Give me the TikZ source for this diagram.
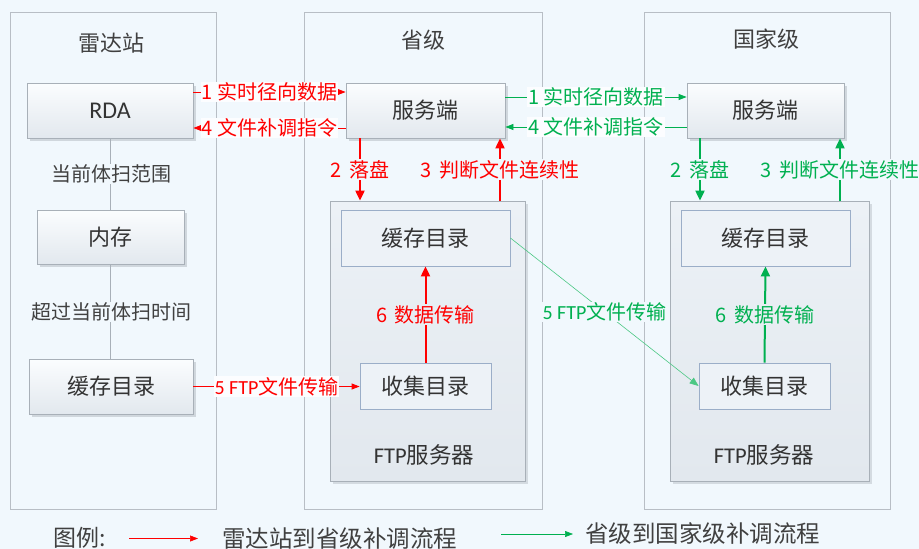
\documentclass[tikz,border=0pt]{standalone}
\usepackage{fontspec}
\setmainfont{Noto Sans CJK SC}
\newfontfamily\lat{Carlito}
\usetikzlibrary{arrows.meta,shadows,calc}
\definecolor{bg}{RGB}{241,248,253}
\definecolor{panelline}{RGB}{184,190,197}
\definecolor{boxline}{RGB}{168,176,184}
\definecolor{innerline}{RGB}{155,174,200}
\definecolor{txt}{RGB}{51,51,51}
\definecolor{ttl}{RGB}{64,64,64}
\definecolor{myred}{RGB}{255,0,0}
\definecolor{mygreen}{RGB}{0,176,80}
\definecolor{lblfill}{RGB}{252,253,255}
\tikzset{
  panel/.style={draw=panelline, line width=0.8pt, fill=bg},
  box/.style={draw=boxline, line width=0.8pt, top color=white!70!bg, bottom color={rgb,255:red,226;green,232;blue,238},
    drop shadow={shadow xshift=3pt, shadow yshift=-3pt, fill={rgb,255:red,200;green,207;blue,214}, opacity=0.8},
    inner sep=0pt, text=txt, font=\fontsize{22}{26}\selectfont},
  ftpbox/.style={draw=boxline, line width=0.8pt, top color={rgb,255:red,236;green,241;blue,246}, bottom color={rgb,255:red,226;green,232;blue,238},
    drop shadow={shadow xshift=3pt, shadow yshift=-3pt, fill={rgb,255:red,205;green,212;blue,218}, opacity=0.8},
    inner sep=0pt},
  innerbox/.style={draw=innerline, line width=0.8pt, fill={rgb,255:red,237;green,242;blue,247}, inner sep=0pt, text=txt, font=\fontsize{22}{26}\selectfont},
  ttlnode/.style={text=ttl, font=\fontsize{22}{26}\selectfont, inner sep=0pt},
  sidelbl/.style={text=ttl, font=\fontsize{20}{22}\selectfont, fill=bg, inner sep=1pt},
  lbl/.style={font=\fontsize{20}{22}\selectfont, fill=lblfill, inner sep=1pt},
  redthin/.style={draw=myred, line width=0.8pt, -{Triangle[length=8pt,width=6pt]}},
  redthick/.style={draw=myred, line width=2pt, -{Triangle[length=10pt,width=9pt]}},
  greenthin/.style={draw=mygreen, line width=0.8pt, -{Triangle[length=8pt,width=6pt]}},
  greenthick/.style={draw=mygreen, line width=2pt, -{Triangle[length=10pt,width=9pt]}},
  greenhair/.style={draw=mygreen!70, line width=0.6pt, -{Triangle[length=9pt,width=7pt]}},
  legend/.style={text=ttl, font=\fontsize{23.5}{26}\selectfont, inner sep=0pt, anchor=west},
}
\begin{document}
\begin{tikzpicture}[x=1pt,y=-1pt]
\fill[bg] (0,0) rectangle (919,549);
\useasboundingbox (0,0) rectangle (919,549);

% panels
\draw[panel] (10,12) rectangle (216,509);
\draw[panel] (304,12) rectangle (542,509);
\draw[panel] (644,12) rectangle (890,509);

\node[ttlnode] (t1) at (111,43) {雷达站};
\node[ttlnode] (t2) at (423,40) {省级};
\node[ttlnode] (t3) at (766,39) {国家级};

% radar station
\node[box, minimum width=166pt, minimum height=55pt] (rda) at (110,110.5) {\lat\fontsize{24}{26}\selectfont RDA};
\node[box, minimum width=147pt, minimum height=54pt] (mem) at (110.5,237) {内存};
\node[box, minimum width=164pt, minimum height=55pt] (hcL) at (111,386.5) {缓存目录};
\draw[draw=boxline, line width=0.8pt] (rda.south -| mem.north) -- (mem.north);
\draw[draw=boxline, line width=0.8pt] (mem.south) -- (mem.south |- hcL.north);
\node[sidelbl] (s1) at (111,174) {当前体扫范围};
\node[sidelbl] (s2) at (111,312) {超过当前体扫时间};

% provincial
\node[box, minimum width=159pt, minimum height=55pt] (sp) at (425.5,110.5) {服务端};
\node[ftpbox, minimum width=195pt, minimum height=280pt] (ftpP) at (427.5,341) {};
\node[innerbox, minimum width=169pt, minimum height=56pt] (hcP) at (425.5,238) {缓存目录};
\node[innerbox, minimum width=131pt, minimum height=46pt] (csP) at (425.5,386) {收集目录};
\node[text=txt, font=\fontsize{22.5}{26}\selectfont, inner sep=0pt] (fP) at (424,455) {{\lat FTP}服务器};

% national
\node[box, minimum width=157pt, minimum height=55pt] (sn) at (765.5,110.5) {服务端};
\node[ftpbox, minimum width=199pt, minimum height=280pt] (ftpN) at (769.5,341) {};
\node[innerbox, minimum width=169pt, minimum height=56pt] (hcN) at (765.5,238) {缓存目录};
\node[innerbox, minimum width=131pt, minimum height=46pt] (csN) at (764.5,386) {收集目录};
\node[text=txt, font=\fontsize{22.5}{26}\selectfont, inner sep=0pt] (fN) at (764,455) {{\lat FTP}服务器};

% red flows
\draw[redthin] ([yshift=18.5pt]rda.east) -- node[lbl, text=myred] {1 实时径向数据} ([yshift=18.5pt]rda.east -| sp.west);
\draw[redthin] ([yshift=-17.5pt]sp.west) -- node[lbl, text=myred] {4 文件补调指令} ([yshift=-17.5pt]sp.west -| rda.east);
\draw[redthick] ([xshift=-65.5pt]sp.south) -- node[lbl, text=myred, fill=bg] {2\hspace{0.35em}落盘} ([xshift=-65.5pt]sp.south |- ftpP.north);
\draw[redthick] ([xshift=74.5pt]sp.south |- ftpP.north) -- node[lbl, text=myred, fill=bg] {3\hspace{0.35em}判断文件连续性} ([xshift=74.5pt]sp.south);
\draw[redthick] (csP.north) -- node[lbl, text=myred, fill={rgb,255:red,232;green,238;blue,243}] {6\hspace{0.35em}数据传输} (hcP.south);
\draw[redthin] (hcL.east) -- node[lbl, text=myred] {{\lat 5 FTP}文件传输} (hcL.east -| csP.west);

% green flows
\draw[greenthin] ([yshift=13.5pt]sp.east) -- node[lbl, text=mygreen] {1 实时径向数据} ([yshift=13.5pt]sp.east -| sn.west);
\draw[greenthin] ([yshift=-16.5pt]sn.west) -- node[lbl, text=mygreen] {4 文件补调指令} ([yshift=-16.5pt]sn.west -| sp.east);
\draw[greenthick] ([xshift=-65.5pt]sn.south) -- node[lbl, text=mygreen, fill=bg] {2\hspace{0.35em}落盘} ([xshift=-65.5pt]sn.south |- ftpN.north);
\draw[greenthick] ([xshift=74.5pt]sn.south |- ftpN.north) -- node[lbl, text=mygreen, fill=bg] {3\hspace{0.35em}判断文件连续性} ([xshift=74.5pt]sn.south);
\draw[greenthick] (csN.north) -- node[lbl, text=mygreen, fill={rgb,255:red,232;green,238;blue,243}] {6\hspace{0.35em}数据传输} (hcN.south);
\draw[greenhair] (hcP.east) -- node[lbl, text=mygreen, fill=bg] {{\lat 5 FTP}文件传输} (csN.west);

% legend
\node[text=ttl, font=\fontsize{23}{26}\selectfont, inner sep=0pt] (lg) at (80,538) {图例:};
\coordinate (r1) at (129,538.5);
\coordinate (r2) at (198,538.5);
\draw[redthin, line width=0.6pt] (r1) -- (r2);
\node[legend] (lr) at (222,538.5) {雷达站到省级补调流程};
\coordinate (g1) at (501,534);
\coordinate (g2) at (573,534);
\draw[greenthin, line width=0.6pt] (g1) -- (g2);
\node[legend] (lgr) at (585,534) {省级到国家级补调流程};
\end{tikzpicture}
\end{document}
